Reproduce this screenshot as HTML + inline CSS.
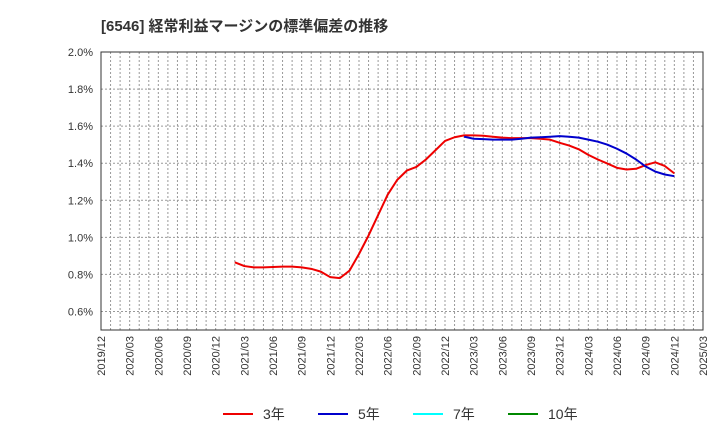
<!DOCTYPE html>
<html><head><meta charset="utf-8"><style>
body{margin:0;background:#fff;font-family:"Liberation Sans","Noto Sans CJK JP",sans-serif}
</style></head><body>
<svg id="c" width="720" height="440" xmlns="http://www.w3.org/2000/svg" font-family="Liberation Sans, Noto Sans CJK JP, sans-serif">
<text x="101" y="31" font-size="15" font-weight="bold" fill="#333">[6546]  経常利益マージンの標準偏差の推移</text>
<g id="grid"></g><g id="axes"></g><g id="series"></g>
<g font-size="14" fill="#333">
<line x1="223" y1="414" x2="253" y2="414" stroke="#e00" stroke-width="2"/><text x="263" y="419">3年</text>
<line x1="318" y1="414" x2="348" y2="414" stroke="#00c" stroke-width="2"/><text x="358" y="419">5年</text>
<line x1="413" y1="414" x2="443" y2="414" stroke="#0ff" stroke-width="2"/><text x="453" y="419">7年</text>
<line x1="508" y1="414" x2="538" y2="414" stroke="#080" stroke-width="2"/><text x="548" y="419">10年</text>
</g>
</svg>
<script>
const yTicks=[0.6,0.8,1.0,1.2,1.4,1.6,1.8,2.0];
const xLabels=["2019/12","2020/03","2020/06","2020/09","2020/12","2021/03","2021/06","2021/09","2021/12","2022/03","2022/06","2022/09","2022/12","2023/03","2023/06","2023/09","2023/12","2024/03","2024/06","2024/09","2024/12","2025/03"];
const s3Start=14;
const s3=[0.865,0.845,0.838,0.838,0.84,0.842,0.842,0.838,0.83,0.815,0.785,0.78,0.82,0.91,1.01,1.12,1.23,1.31,1.36,1.38,1.42,1.47,1.52,1.54,1.55,1.55,1.548,1.543,1.538,1.535,1.535,1.535,1.532,1.527,1.51,1.495,1.475,1.445,1.42,1.398,1.375,1.366,1.37,1.39,1.405,1.385,1.345];
const s5Start=38;
const s5=[1.543,1.532,1.53,1.527,1.527,1.527,1.532,1.538,1.54,1.543,1.546,1.543,1.538,1.527,1.516,1.5,1.478,1.452,1.42,1.382,1.355,1.339,1.33];
const L=101,R=703,T=52,B=330,NM=63,VMIN=0.5,VMAX=2.0;
const X=i=>L+i*(R-L)/NM, Y=v=>B-(v-VMIN)/(VMAX-VMIN)*(B-T);
const NS="http://www.w3.org/2000/svg";
function mk(t,a,p){const e=document.createElementNS(NS,t);for(const k in a)e.setAttribute(k,a[k]);p.appendChild(e);return e;}
const g=document.getElementById('grid'),ax=document.getElementById('axes'),se=document.getElementById('series');
for(let i=1;i<NM;i++){const l=mk('line',{x1:X(i),x2:X(i),y1:T,y2:B,stroke:'#999','stroke-dasharray':'2,2','stroke-width':1},g);

}
yTicks.forEach(v=>{const l=mk('line',{x1:L,x2:R,y1:Y(v),y2:Y(v),stroke:'#999','stroke-dasharray':'2,2','stroke-width':1},g);


const t=mk('text',{x:L-8,y:Y(v)+4,'text-anchor':'end','font-size':11,fill:'#333'},ax);t.textContent=v.toFixed(1)+'%';

});
xLabels.forEach((s,k)=>{const x=X(k*3),y=B+6;const t=mk('text',{x:x+4,y:y,'text-anchor':'end','font-size':11,fill:'#333',transform:`rotate(-90 ${x+4} ${y})`},ax);t.textContent=s;

});
const f=mk('rect',{x:L,y:T,width:R-L,height:B-T,fill:'none',stroke:'#333','stroke-width':1},ax);


function line(d,st,c,n){const p=mk('polyline',{points:d.map((v,i)=>X(st+i)+','+Y(v)).join(' '),fill:'none',stroke:c,'stroke-width':2,'stroke-linejoin':'round'},se);

}
line(s3,s3Start,'#e00','series-3y');
line(s5,s5Start,'#00c','series-5y');
</script>
</body></html>
